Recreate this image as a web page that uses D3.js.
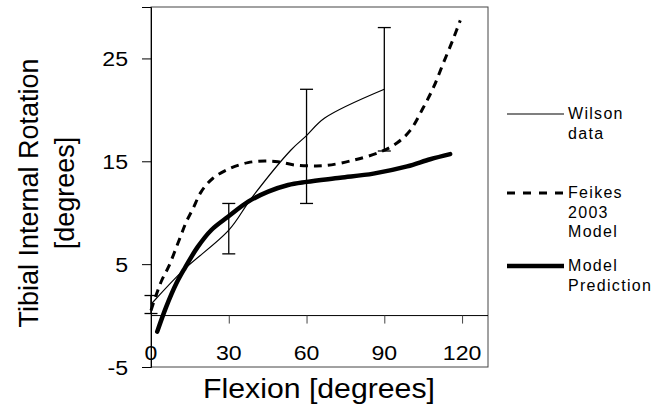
<!DOCTYPE html>
<html>
<head>
<meta charset="utf-8">
<script src="https://cdn.jsdelivr.net/npm/d3@7"></script>
<style>
  body { margin: 0; background: #fff; }
  svg { display: block; font-family: "Liberation Sans", Arial, sans-serif; }
</style>
</head>
<body>
<svg id="chart" width="670" height="411"></svg>
<script>
// tick labels
var xTicks = [0, 30, 60, 90, 120];
var yTicks = [-5, 5, 15, 25];

// Wilson data (mean line + error bars: flexion, low, high)
var wilsonLine = [[0, 1.1], [12.4, 4.4], [30, 8.3], [38.7, 11.4], [54, 16.1], [60, 17.5], [67, 19.2], [90, 22.0]];
var wilsonBars = [[0, 0.2, 1.95], [30, 6.0, 10.9], [60, 10.9, 22.0], [90, 16.0, 28.0]];

// Feikes 2003 model
var feikes = [[0, 0.5], [2, 2.0], [4.2, 3.46], [6.8, 4.75], [11.1, 7.5], [13.6, 9.1], [16.2, 10.4], [19.4, 12.05],
  [23.9, 13.35], [30.4, 14.3], [37.4, 14.87], [43.9, 15.03], [49, 14.96], [55.4, 14.64], [62, 14.55], [67.9, 14.6],
  [78, 15.1], [88.4, 15.9], [95, 16.8], [100, 18.0], [105, 20.2], [109, 22.2], [112.7, 24.5], [116.6, 26.9], [119.3, 28.7]];

// model prediction
var model = [[2.4, -1.56], [5.9, 0.87], [9.8, 3.14], [13.0, 4.6], [18.1, 6.7], [23.3, 8.32], [29.7, 9.6], [37.5, 11.07],
  [45.2, 12.05], [52.9, 12.7], [60, 13.0], [73, 13.4], [85.8, 13.8], [98.8, 14.5], [107.7, 15.2], [115.4, 15.7]];

var svg = d3.select('#chart');

var x = d3.scaleLinear().domain([0, 130]).range([151, 488]);
var y = d3.scaleLinear().domain([-5, 30]).range([367, 7]);

// plot frame
svg.append('rect')
    .attr('x', x(0)).attr('y', y(30))
    .attr('width', x(130) - x(0)).attr('height', y(-5) - y(30))
    .attr('fill', 'none').attr('stroke', '#444').attr('stroke-width', 1);

// y axis
var yAxis = svg.append('g')
    .attr('transform', 'translate(' + x(0) + ',0)')
    .call(d3.axisLeft(y).tickValues(yTicks).tickSize(9).tickFormat(''));
yAxis.select('.domain').attr('stroke', '#000');

// x axis along zero
var xAxis = svg.append('g')
    .attr('transform', 'translate(0,' + y(0) + ')')
    .call(d3.axisBottom(x).tickValues(xTicks.slice(1)).tickSize(8).tickFormat(''));
xAxis.select('.domain').attr('d', 'M' + x(0) + ',0H' + x(130));
xAxis.selectAll('.tick line').attr('stroke', '#444');

// tick labels (slightly stretched like the original)
svg.selectAll('.ylab').data(yTicks).enter().append('g')
    .attr('transform', function (d) { return 'translate(128,' + (y(d) + 8) + ') scale(1.1,1)'; })
    .append('text')
    .attr('text-anchor', 'end')
    .attr('font-size', 21)
    .text(function (d) { return d; });

svg.selectAll('.xlab').data(xTicks).enter().append('g')
    .attr('transform', function (d) { return 'translate(' + x(d) + ',360) scale(1.1,1)'; })
    .append('text')
    .attr('text-anchor', 'middle')
    .attr('font-size', 21)
    .text(function (d) { return d; });

// axis titles
svg.append('g')
    .attr('transform', 'translate(319,398) scale(1.12,1)')
    .append('text')
    .attr('text-anchor', 'middle')
    .attr('font-size', 27)
    .text('Flexion [degrees]');

var yt = svg.append('text')
    .attr('transform', 'translate(38,193) rotate(-90)')
    .attr('text-anchor', 'middle')
    .attr('font-size', 27);
yt.append('tspan').attr('x', 0).attr('y', 0).text('Tibial Internal Rotation');
yt.append('tspan').attr('x', 0).attr('y', 36).text('[degrees]');

var line = d3.line()
    .x(function (d) { return x(d[0]); })
    .y(function (d) { return y(d[1]); })
    .curve(d3.curveCatmullRom);

// Feikes dashed
svg.append('path')
    .attr('d', line(feikes))
    .attr('fill', 'none').attr('stroke', '#000')
    .attr('stroke-width', 3).attr('stroke-dasharray', '8,6');

// Wilson
svg.append('path')
    .attr('d', line(wilsonLine))
    .attr('fill', 'none').attr('stroke', '#000').attr('stroke-width', 1.2);

var bars = svg.selectAll('.bar').data(wilsonBars).enter().append('g').attr('class', 'bar');
bars.append('line')
    .attr('x1', function (d) { return x(d[0]); }).attr('x2', function (d) { return x(d[0]); })
    .attr('y1', function (d) { return y(d[1]); }).attr('y2', function (d) { return y(d[2]); })
    .attr('stroke', '#000').attr('stroke-width', 1.3);
bars.append('line')
    .attr('x1', function (d) { return x(d[0]) - 6.5; }).attr('x2', function (d) { return x(d[0]) + 6.5; })
    .attr('y1', function (d) { return y(d[2]); }).attr('y2', function (d) { return y(d[2]); })
    .attr('stroke', '#000').attr('stroke-width', 1.3);
bars.append('line')
    .attr('x1', function (d) { return x(d[0]) - 6.5; }).attr('x2', function (d) { return x(d[0]) + 6.5; })
    .attr('y1', function (d) { return y(d[1]); }).attr('y2', function (d) { return y(d[1]); })
    .attr('stroke', '#000').attr('stroke-width', 1.3);

// model prediction
svg.append('path')
    .attr('d', line(model))
    .attr('fill', 'none').attr('stroke', '#000')
    .attr('stroke-width', 4.5).attr('stroke-linecap', 'round');

// legend
var legend = [
    { lines: ['Wilson', 'data'], y: 114, width: 1.2, dash: null },
    { lines: ['Feikes', '2003', 'Model'], y: 193, width: 3, dash: '8,8' },
    { lines: ['Model', 'Prediction'], y: 266, width: 4.5, dash: null }
];
legend.forEach(function (l) {
    svg.append('line')
        .attr('x1', 507).attr('x2', 564)
        .attr('y1', l.y).attr('y2', l.y)
        .attr('stroke', '#000').attr('stroke-width', l.width)
        .attr('stroke-dasharray', l.dash);
    var t = svg.append('text')
        .attr('font-size', 16)
        .attr('letter-spacing', 1.3);
    l.lines.forEach(function (s, i) {
        t.append('tspan').attr('x', 568).attr('y', l.y + 5 + i * 19.5).text(s);
    });
});
</script>
</body>
</html>
